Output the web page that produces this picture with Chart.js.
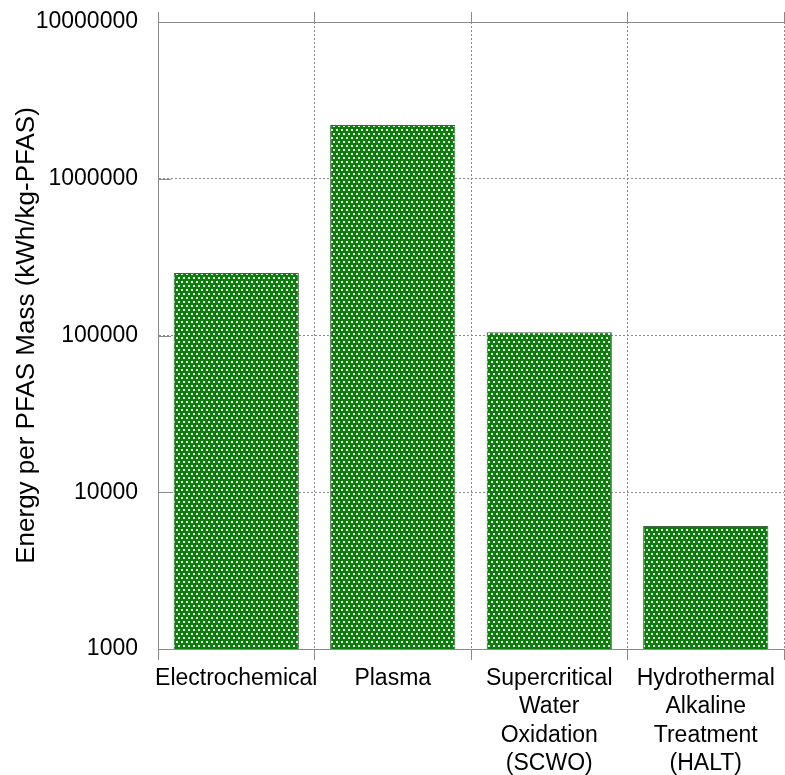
<!DOCTYPE html>
<html>
<head>
<meta charset="utf-8">
<script src="https://cdn.jsdelivr.net/npm/chart.js@4.4.1/dist/chart.umd.min.js"></script>
<style>
  html, body { margin: 0; padding: 0; background: #fff; }
  #wrap { width: 785px; height: 775px; }
</style>
</head>
<body>
<div id="wrap"><canvas id="energy-chart" width="785" height="775"></canvas></div>
<script>
const categories = [
  ["Electrochemical"],
  ["Plasma"],
  ["Supercritical", "Water", "Oxidation", "(SCWO)"],
  ["Hydrothermal", "Alkaline", "Treatment", "(HALT)"],
];
const energyPerMass = [250000, 2200000, 105000, 6100];
const yTicks = [1000, 10000, 100000, 1000000, 10000000];

const FONT = "'Liberation Sans', Arial, Helvetica, sans-serif";
const AXIS = "#8a8a8a";

// green fill with small white dots
function dotPattern() {
  const c = document.createElement("canvas");
  c.width = 10;
  c.height = 8;
  const g = c.getContext("2d");
  g.fillStyle = "#0a800a";
  g.fillRect(0, 0, 10, 8);
  g.fillStyle = "#f2f9f2";
  [[1, 1], [6, 1], [3, 5], [8, 5]].forEach(([x, y]) => g.fillRect(x, y, 2, 2));
  return g.createPattern(c, "repeat");
}

// short solid stubs of the grid next to the y axis
const innerTicks = {
  id: "innerTicks",
  beforeDatasetsDraw(chart) {
    const { ctx, chartArea, scales } = chart;
    ctx.save();
    ctx.strokeStyle = AXIS;
    ctx.lineWidth = 1;
    yTicks.forEach((v) => {
      const y = Math.round(scales.y.getPixelForValue(v)) + 0.5;
      ctx.beginPath();
      ctx.moveTo(chartArea.left, y);
      ctx.lineTo(chartArea.left + 13, y);
      ctx.stroke();
    });
    ctx.restore();
  },
};

const ctx = document.getElementById("energy-chart").getContext("2d");
const chart = new Chart(ctx, {
  type: "bar",
  data: {
    labels: categories,
    datasets: [
      {
        data: energyPerMass,
        backgroundColor: dotPattern(),
        borderColor: "#3f633f",
        borderWidth: 1,
        barPercentage: 0.8,
        categoryPercentage: 1.0,
      },
    ],
  },
  options: {
    responsive: false,
    animation: false,
    layout: { padding: { left: 0, right: 1, top: 12, bottom: 0 } },
    plugins: { legend: { display: false }, tooltip: { enabled: false } },
    scales: {
      x: {
        position: "bottom",
        afterFit: (s) => {
          s.paddingLeft = 0;
          s.paddingRight = 0;
          s.height = 126;
        },
        grid: {
          offset: true,
          color: AXIS,
          tickColor: AXIS,
          tickLength: 11,
          tickBorderDash: [],
        },
        border: { color: AXIS, dash: [2, 2] },
        ticks: {
          color: "#000",
          padding: 4,
          maxRotation: 0,
          autoSkip: false,
          font: { family: FONT, size: 23, lineHeight: 1.243 },
        },
      },
      x2: {
        type: "category",
        position: "top",
        afterFit: (s) => {
          s.paddingLeft = 0;
          s.paddingRight = 0;
          s.height = 10;
        },
        grid: {
          offset: true,
          drawOnChartArea: false,
          tickColor: AXIS,
          tickLength: 10,
        },
        border: { color: AXIS },
        ticks: { display: false },
      },
      y: {
        type: "logarithmic",
        min: 1000,
        max: 10000000,
        afterBuildTicks: (axis) => {
          axis.ticks = yTicks.map((v) => ({ value: v }));
        },
        afterFit: (s) => {
          s.width = 158;
          s.paddingTop = 0;
          s.paddingBottom = 0;
        },
        grid: { color: AXIS, drawTicks: false },
        border: { color: AXIS, dash: [2, 2] },
        ticks: {
          color: "#000",
          padding: 20,
          font: { family: FONT, size: 23 },
          callback: (v) => String(v),
        },
        title: {
          display: true,
          text: "Energy per PFAS Mass (kWh/kg-PFAS)",
          color: "#000",
          font: { family: FONT, size: 26, lineHeight: 1.2 },
          padding: { top: 11.4, bottom: 0 },
        },
      },
    },
  },
  plugins: [innerTicks],
});
</script>
</body>
</html>
